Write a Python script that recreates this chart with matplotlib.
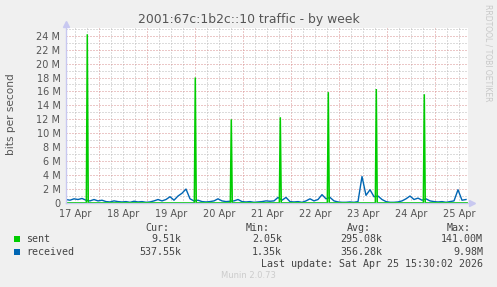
import matplotlib
matplotlib.use("Agg")
import matplotlib.pyplot as plt
from matplotlib.patches import Rectangle
import numpy as np

W, H = 497, 287

# ---- data (values in Mbit/s) ----
day_labels = ["17 Apr", "18 Apr", "19 Apr", "20 Apr", "21 Apr", "22 Apr", "23 Apr", "24 Apr", "25 Apr"]
label_days = [17, 18, 19, 20, 21, 22, 23, 24, 25]
x_start, x_end = 16.8125, 25.1875

# received series sampled every 2 hours starting at x_start
received = [0.5, 0.4, 0.6, 0.5, 0.65, 0.4, 0.3, 0.5, 0.3, 0.4,
            0.2, 0.15, 0.3, 0.2, 0.15, 0.2, 0.1, 0.25, 0.15, 0.2,
            0.1, 0.15, 0.3, 0.5, 0.3, 0.5, 0.9, 0.4, 1.0, 1.4,
            2.0, 0.6, 0.3, 0.4, 0.2, 0.15, 0.2, 0.3, 0.6, 0.3,
            0.2, 0.25, 0.3, 0.5, 0.2, 0.15, 0.2, 0.1, 0.15, 0.2,
            0.3, 0.25, 0.3, 0.8, 0.4, 0.8, 0.2, 0.15, 0.2, 0.1,
            0.3, 0.6, 0.3, 0.5, 1.2, 0.6, 0.8, 0.3, 0.15, 0.1,
            0.1, 0.15, 0.1, 0.2, 3.8, 1.1, 1.9, 0.9, 1.0, 0.5,
            0.2, 0.1, 0.1, 0.15, 0.3, 0.6, 1.0, 0.5, 0.7, 0.4,
            0.6, 0.3, 0.2, 0.15, 0.2, 0.1, 0.2, 0.3, 1.9, 0.4, 0.5]
recv_step = 1.0 / 12.0

# sent series: baseline with narrow spikes (day, value)
sent_days = [16.8125,
             17.236, 17.256, 17.276,
             19.486, 19.506, 19.526,
             20.236, 20.256, 20.276,
             21.257, 21.277, 21.297,
             22.257, 22.277, 22.297,
             23.257, 23.277, 23.297,
             24.257, 24.277, 24.297,
             25.17]
sent_vals = [0.02,
             0.02, 24.2, 0.02,
             0.02, 18.0, 0.02,
             0.02, 12.0, 0.02,
             0.02, 12.3, 0.02,
             0.02, 15.9, 0.02,
             0.02, 16.35, 0.02,
             0.02, 15.6, 0.02,
             0.02]

legend_rows = [("sent", "#00CC00", "9.51k", "2.05k", "295.08k", "141.00M"),
               ("received", "#0066B3", "537.55k", "1.35k", "356.28k", "9.98M")]

# ---- figure ----
fig = plt.figure(figsize=(W / 100, H / 100), dpi=100, facecolor="#F0F0F0")
L, R, T, B = 66, 468, 28, 203
ax = fig.add_axes([L / W, 1 - B / H, (R - L) / W, (B - T) / H])
ax.set_facecolor("white")

ymax = 25.1
ax.set_xlim(x_start, x_end)
ax.set_ylim(0, ymax)

# grid
grid_kw = dict(lw=0.72, linestyle=(0, (1, 2)), zorder=1)
for d in np.arange(16.75, 25.2, 0.25):
    if d <= x_start or d >= x_end:
        continue
    major = abs((d - 0.5) - round(d - 0.5)) < 1e-6
    ax.axvline(d, color="#D89090" if major else "#BBBBBB", **grid_kw)
for v in range(1, 26):
    ax.axhline(v, color="#D89090" if v % 2 == 0 else "#BBBBBB", **grid_kw)

recv_x = [x_start + i * recv_step for i in range(len(received))]
ax.plot(recv_x, received, color="#0066B3", lw=1.0, zorder=3)
ax.plot(sent_days, sent_vals, color="#00CC00", lw=1.1, zorder=4, solid_joinstyle="miter")

for s in ax.spines.values():
    s.set_visible(False)

# axis lines with arrows
axis_col = "#C8C8F0"
ax.plot([0, 0], [0, 1 + 5 / 175], color=axis_col, lw=1, transform=ax.transAxes, clip_on=False, zorder=5)
ax.plot([0], [1 + 4 / 175], marker="^", ms=4, color=axis_col, transform=ax.transAxes, clip_on=False, zorder=5)
ax.plot([0, 1 + 5 / 402], [0, 0], color=axis_col, lw=1, transform=ax.transAxes, clip_on=False, zorder=5)
ax.plot([1 + 4 / 402], [0], marker=">", ms=4, color=axis_col, transform=ax.transAxes, clip_on=False, zorder=5)

yt = list(range(0, 25, 2))
ax.set_yticks(yt)
ax.set_yticklabels(["0"] + [f"{v} M" for v in yt[1:]])
ax.set_xticks(label_days)
ax.set_xticklabels(day_labels)
ax.tick_params(axis="both", length=0, labelsize=7, colors="#555555")
ax.tick_params(axis="y", pad=4)
ax.tick_params(axis="x", pad=4)

fig.text(248.5 / W, 1 - 19.5 / H, "2001:67c:1b2c::10 traffic - by week", ha="center", va="center",
         fontsize=8.9, color="#555555")
fig.text(11 / W, 1 - 114 / H, "bits per second", rotation=90, ha="center", va="center",
         fontsize=7.6, color="#555555")
fig.text(488 / W, 1 - 53 / H, "RRDTOOL / TOBI OETIKER", rotation=270, ha="center", va="center",
         fontsize=5.5, color="#C8C8C8")

mono = dict(family="DejaVu Sans Mono", fontsize=7.2, color="#444444", va="center")
def fx(px):
    return px / W
def fy(py):
    return 1 - py / H

hy = 227.7
fig.text(fx(145.7), fy(hy), "Cur:", ha="left", **mono)
fig.text(fx(246), fy(hy), "Min:", ha="left", **mono)
fig.text(fx(346.7), fy(hy), "Avg:", ha="left", **mono)
fig.text(fx(446.7), fy(hy), "Max:", ha="left", **mono)

for (name, col, cur, mn, avg, mx), ry in zip(legend_rows, [239.3, 251.7]):
    fig.add_artist(Rectangle((fx(14), fy(ry + 3)), 6 / W, 6 / H, transform=fig.transFigure,
                             facecolor=col, edgecolor="none"))
    fig.text(fx(26.5), fy(ry), name, ha="left", **mono)
    fig.text(fx(181.5), fy(ry), cur, ha="right", **mono)
    fig.text(fx(282), fy(ry), mn, ha="right", **mono)
    fig.text(fx(382), fy(ry), avg, ha="right", **mono)
    fig.text(fx(483), fy(ry), mx, ha="right", **mono)

fig.text(fx(483), fy(263.7), "Last update: Sat Apr 25 15:30:02 2026", ha="right", **mono)
fig.text(fx(248), fy(276), "Munin 2.0.73", ha="center", va="center", fontsize=6, color="#CCCCCC")

fig.savefig("out.png", dpi=100, facecolor=fig.get_facecolor())
